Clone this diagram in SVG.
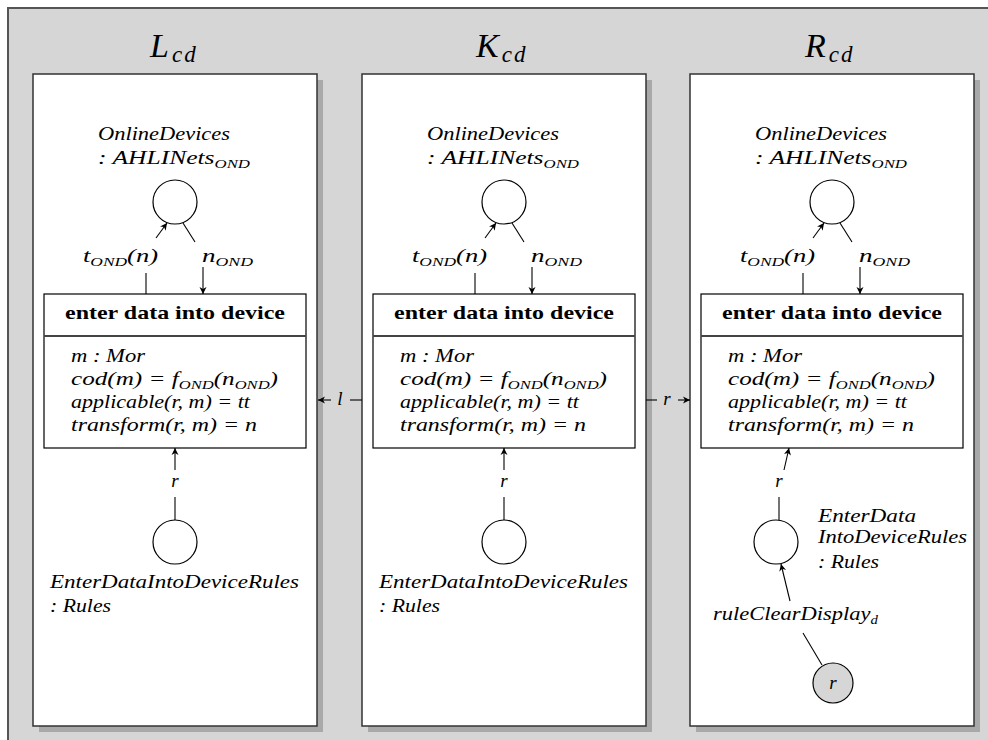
<svg xmlns="http://www.w3.org/2000/svg" width="988" height="740" viewBox="0 0 988 740">
  <defs>
    <marker id="ah" viewBox="-8 -4 9 8" refX="0" refY="0" markerWidth="9" markerHeight="8" markerUnits="userSpaceOnUse" orient="auto">
      <path d="M0,0 L-7,-3.5 L-5,0 L-7,3.5 Z" fill="#000"/>
    </marker>
  </defs>
  <style>
    text { font-family: "Liberation Serif", "DejaVu Serif", serif; fill: #000; }
    .it { font-style: italic; font-size: 19px; }
    .title { font-style: italic; font-size: 34px; }
    .hdr { font-weight: bold; font-size: 19px; }
    .sub { font-size: 12.5px; }
    .tsub { font-size: 23px; letter-spacing: 2px; }
    .panel { fill: #fff; stroke: #333; stroke-width: 1.5; }
    .shadow { fill: #a9a9a9; }
    .place { fill: #fff; stroke: #000; stroke-width: 1.2; }
    .token { fill: #d6d6d6; stroke: #000; stroke-width: 1.2; }
    .trans { fill: #fff; stroke: #000; stroke-width: 1.2; }
    .sep { stroke: #444; stroke-width: 1.8; }
    .edge { fill: none; stroke: #000; stroke-width: 1.1; }
    .arr { marker-end: url(#ah); }
  </style>

  <!-- background frame -->
  <rect x="8" y="8" width="1000" height="760" fill="#d6d6d6" stroke="#555" stroke-width="2"/>

  <!-- panel L -->
  <g id="panel-L">
    <text class="title" x="150" y="57">L<tspan class="tsub" dx="3" dy="5">cd</tspan></text>
    <rect class="shadow" x="39" y="80" width="284" height="652"/>
    <rect class="panel" x="33" y="74" width="284" height="652"/>
  </g>
  <!-- panel K -->
  <g id="panel-K">
    <text class="title" x="476" y="57">K<tspan class="tsub" dx="3" dy="5">cd</tspan></text>
    <rect class="shadow" x="368" y="80" width="284" height="652"/>
    <rect class="panel" x="362" y="74" width="284" height="652"/>
  </g>
  <!-- panel R -->
  <g id="panel-R">
    <text class="title" x="805" y="57">R<tspan class="tsub" dx="3" dy="5">cd</tspan></text>
    <rect class="shadow" x="696" y="80" width="284" height="652"/>
    <rect class="panel" x="690" y="74" width="284" height="652"/>
  </g>

  <!-- L contents -->
  <g id="L-online-devices">
    <circle class="place" cx="175" cy="202" r="22"/>
    <text class="it" x="98" y="140" textLength="132" lengthAdjust="spacingAndGlyphs">OnlineDevices</text>
    <text class="it" x="98" y="164" textLength="152" lengthAdjust="spacingAndGlyphs">: AHLINets<tspan class="sub" dy="4">OND</tspan></text>
  </g>
  <g id="L-enter-data">
    <rect class="trans" x="44" y="294" width="262" height="154"/>
    <line class="sep" x1="44" y1="336" x2="306" y2="336"/>
    <text class="hdr" x="175" y="319" text-anchor="middle" textLength="220" lengthAdjust="spacingAndGlyphs">enter data into device</text>
    <text class="it" x="71" y="362" textLength="74" lengthAdjust="spacingAndGlyphs">m : Mor</text>
    <text class="it" x="71" y="385" textLength="207" lengthAdjust="spacingAndGlyphs">cod(m) = f<tspan class="sub" dy="4">OND</tspan><tspan dy="-4">(n</tspan><tspan class="sub" dy="4">OND</tspan><tspan dy="-4">)</tspan></text>
    <text class="it" x="71" y="408" textLength="179" lengthAdjust="spacingAndGlyphs">applicable(r, m) = tt</text>
    <text class="it" x="71" y="431" textLength="186" lengthAdjust="spacingAndGlyphs">transform(r, m) = n</text>
  </g>
  <g id="L-rules">
    <circle class="place" cx="175" cy="542" r="22"/>
    <text class="it" x="50" y="588" textLength="249" lengthAdjust="spacingAndGlyphs">EnterDataIntoDeviceRules</text>
    <text class="it" x="50" y="612" textLength="61" lengthAdjust="spacingAndGlyphs">: Rules</text>
  </g>

  <!-- K contents -->
  <g id="K-online-devices" transform="translate(329,0)">
    <circle class="place" cx="175" cy="202" r="22"/>
    <text class="it" x="98" y="140" textLength="132" lengthAdjust="spacingAndGlyphs">OnlineDevices</text>
    <text class="it" x="98" y="164" textLength="152" lengthAdjust="spacingAndGlyphs">: AHLINets<tspan class="sub" dy="4">OND</tspan></text>
  </g>
  <g id="K-enter-data" transform="translate(329,0)">
    <rect class="trans" x="44" y="294" width="262" height="154"/>
    <line class="sep" x1="44" y1="336" x2="306" y2="336"/>
    <text class="hdr" x="175" y="319" text-anchor="middle" textLength="220" lengthAdjust="spacingAndGlyphs">enter data into device</text>
    <text class="it" x="71" y="362" textLength="74" lengthAdjust="spacingAndGlyphs">m : Mor</text>
    <text class="it" x="71" y="385" textLength="207" lengthAdjust="spacingAndGlyphs">cod(m) = f<tspan class="sub" dy="4">OND</tspan><tspan dy="-4">(n</tspan><tspan class="sub" dy="4">OND</tspan><tspan dy="-4">)</tspan></text>
    <text class="it" x="71" y="408" textLength="179" lengthAdjust="spacingAndGlyphs">applicable(r, m) = tt</text>
    <text class="it" x="71" y="431" textLength="186" lengthAdjust="spacingAndGlyphs">transform(r, m) = n</text>
  </g>
  <g id="K-rules" transform="translate(329,0)">
    <circle class="place" cx="175" cy="542" r="22"/>
    <text class="it" x="50" y="588" textLength="249" lengthAdjust="spacingAndGlyphs">EnterDataIntoDeviceRules</text>
    <text class="it" x="50" y="612" textLength="61" lengthAdjust="spacingAndGlyphs">: Rules</text>
  </g>

  <!-- R contents -->
  <g id="R-online-devices" transform="translate(657,0)">
    <circle class="place" cx="175" cy="202" r="22"/>
    <text class="it" x="98" y="140" textLength="132" lengthAdjust="spacingAndGlyphs">OnlineDevices</text>
    <text class="it" x="98" y="164" textLength="152" lengthAdjust="spacingAndGlyphs">: AHLINets<tspan class="sub" dy="4">OND</tspan></text>
  </g>
  <g id="R-enter-data" transform="translate(657,0)">
    <rect class="trans" x="44" y="294" width="262" height="154"/>
    <line class="sep" x1="44" y1="336" x2="306" y2="336"/>
    <text class="hdr" x="175" y="319" text-anchor="middle" textLength="220" lengthAdjust="spacingAndGlyphs">enter data into device</text>
    <text class="it" x="71" y="362" textLength="74" lengthAdjust="spacingAndGlyphs">m : Mor</text>
    <text class="it" x="71" y="385" textLength="207" lengthAdjust="spacingAndGlyphs">cod(m) = f<tspan class="sub" dy="4">OND</tspan><tspan dy="-4">(n</tspan><tspan class="sub" dy="4">OND</tspan><tspan dy="-4">)</tspan></text>
    <text class="it" x="71" y="408" textLength="179" lengthAdjust="spacingAndGlyphs">applicable(r, m) = tt</text>
    <text class="it" x="71" y="431" textLength="186" lengthAdjust="spacingAndGlyphs">transform(r, m) = n</text>
  </g>
  <g id="R-rules" transform="translate(657,0)">
    <circle class="place" cx="119" cy="542" r="22"/>
    <text class="it" x="161" y="522" textLength="98" lengthAdjust="spacingAndGlyphs">EnterData</text>
    <text class="it" x="161" y="543" textLength="149" lengthAdjust="spacingAndGlyphs">IntoDeviceRules</text>
    <text class="it" x="161" y="568" textLength="61" lengthAdjust="spacingAndGlyphs">: Rules</text>
  </g>
  <g id="R-rule-token" transform="translate(657,0)">
    <circle class="token" cx="176" cy="683" r="20"/>
    <text class="it" x="176" y="689" text-anchor="middle">r</text>
  </g>

  <!-- connectors -->
  <g id="connectors">
    <!-- arcs repeated in each panel -->
    <g id="arcs-L">
      <line class="edge" x1="146" y1="294" x2="146" y2="273"/>
      <line class="edge arr" x1="156" y1="238" x2="167" y2="223"/>
      <text class="it" x="83" y="262" textLength="75" lengthAdjust="spacingAndGlyphs">t<tspan class="sub" dy="4">OND</tspan><tspan dy="-4">(n)</tspan></text>
      <line class="edge" x1="183" y1="223" x2="195" y2="242"/>
      <line class="edge arr" x1="203" y1="267" x2="203" y2="294"/>
      <text class="it" x="202" y="262" textLength="51" lengthAdjust="spacingAndGlyphs">n<tspan class="sub" dy="4">OND</tspan></text>
      <line class="edge" x1="175" y1="520" x2="175" y2="497"/>
      <line class="edge arr" x1="175" y1="470" x2="175" y2="448"/>
      <text class="it" x="175" y="487" text-anchor="middle">r</text>
    </g>
    <g id="arcs-K" transform="translate(329,0)">
      <line class="edge" x1="146" y1="294" x2="146" y2="273"/>
      <line class="edge arr" x1="156" y1="238" x2="167" y2="223"/>
      <text class="it" x="83" y="262" textLength="75" lengthAdjust="spacingAndGlyphs">t<tspan class="sub" dy="4">OND</tspan><tspan dy="-4">(n)</tspan></text>
      <line class="edge" x1="183" y1="223" x2="195" y2="242"/>
      <line class="edge arr" x1="203" y1="267" x2="203" y2="294"/>
      <text class="it" x="202" y="262" textLength="51" lengthAdjust="spacingAndGlyphs">n<tspan class="sub" dy="4">OND</tspan></text>
      <line class="edge" x1="175" y1="520" x2="175" y2="497"/>
      <line class="edge arr" x1="175" y1="470" x2="175" y2="448"/>
      <text class="it" x="175" y="487" text-anchor="middle">r</text>
    </g>
    <g id="arcs-R" transform="translate(657,0)">
      <line class="edge" x1="146" y1="294" x2="146" y2="273"/>
      <line class="edge arr" x1="156" y1="238" x2="167" y2="223"/>
      <text class="it" x="83" y="262" textLength="75" lengthAdjust="spacingAndGlyphs">t<tspan class="sub" dy="4">OND</tspan><tspan dy="-4">(n)</tspan></text>
      <line class="edge" x1="183" y1="223" x2="195" y2="242"/>
      <line class="edge arr" x1="203" y1="267" x2="203" y2="294"/>
      <text class="it" x="202" y="262" textLength="51" lengthAdjust="spacingAndGlyphs">n<tspan class="sub" dy="4">OND</tspan></text>
      <line class="edge" x1="122" y1="520" x2="122" y2="497"/>
      <line class="edge arr" x1="127" y1="470" x2="132" y2="448"/>
      <text class="it" x="122" y="487" text-anchor="middle">r</text>
      <line class="edge arr" x1="133" y1="601" x2="124" y2="564"/>
      <text class="it" x="56" y="620" textLength="165" lengthAdjust="spacingAndGlyphs">ruleClearDisplay<tspan class="sub" dy="4">d</tspan></text>
      <line class="edge" x1="146" y1="633" x2="165" y2="665"/>
    </g>
    <!-- span morphisms -->
    <g id="morphism-l">
      <line class="edge" x1="362" y1="400" x2="350" y2="400"/>
      <line class="edge arr" x1="331" y1="400" x2="318" y2="400"/>
      <text class="it" x="340" y="405" text-anchor="middle">l</text>
    </g>
    <g id="morphism-r">
      <line class="edge" x1="646" y1="400" x2="657" y2="400"/>
      <line class="edge arr" x1="678" y1="400" x2="690" y2="400"/>
      <text class="it" x="667" y="405" text-anchor="middle">r</text>
    </g>
  </g>
</svg>
